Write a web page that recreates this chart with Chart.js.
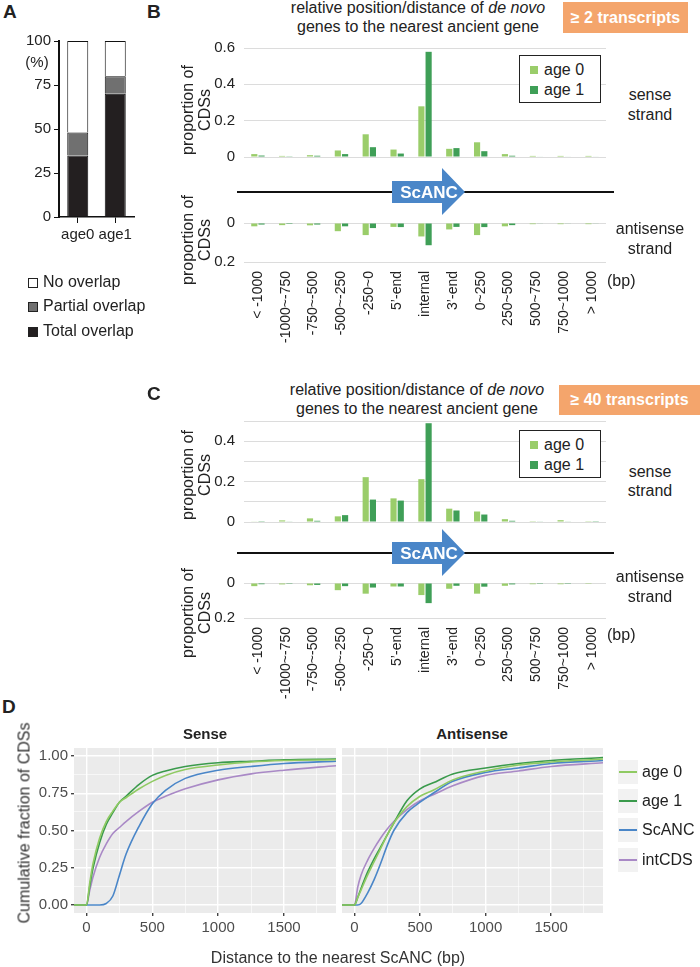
<!DOCTYPE html>
<html>
<head>
<meta charset="utf-8">
<script src="https://cdn.jsdelivr.net/npm/chart.js@4.4.0/dist/chart.umd.min.js"></script>
<style>
body { margin: 0; background: #fff; font-family: "Liberation Sans", Arial, sans-serif; color: #222; }
#fig { position: relative; width: 700px; height: 967px; overflow: hidden; }
.box { position: absolute; }
.t { position: absolute; white-space: nowrap; line-height: 1; transform: translate(-50%, -50%); }
.l { position: absolute; white-space: nowrap; line-height: 1; transform: translateY(-50%); }
.rot { position: absolute; white-space: nowrap; line-height: 17px; text-align: center; transform: translate(-50%, -50%) rotate(-90deg); font-size: 16px; }
.letter { position: absolute; font-weight: bold; font-size: 19px; line-height: 1; }
.tag { position: absolute; background: #f4a56c; color: #fff; font-weight: bold; font-size: 16px; display: flex; align-items: center; justify-content: center; }
.lgd { position: absolute; border: 1px solid #222; background: #fff; font-size: 16px; }
.sq { position: absolute; width: 8px; height: 8px; }
</style>
</head>
<body>
<div id="fig">

<!-- panel A -->
<div class="letter" style="left:3px;top:2px">A</div>
<div class="box" style="left:0;top:25px;width:146px;height:225px"><canvas id="chartA"></canvas></div>
<div class="t" style="left:37px;top:61px;font-size:15px">(%)</div>
<div class="sq" style="left:28px;top:278px;border:1px solid #222;background:#fff"></div>
<div class="l" style="left:43px;top:282px;font-size:16px">No overlap</div>
<div class="sq" style="left:28px;top:302px;border:1px solid #222;background:#707070"></div>
<div class="l" style="left:43px;top:306px;font-size:16px">Partial overlap</div>
<div class="sq" style="left:28px;top:327px;border:1px solid #222;background:#231f20"></div>
<div class="l" style="left:43px;top:331px;font-size:16px">Total overlap</div>

<!-- panel B -->
<div class="letter" style="left:147px;top:2px">B</div>
<div class="t" style="left:418px;top:8px;font-size:16px">relative position/distance of <i>de novo</i></div>
<div class="t" style="left:418px;top:27px;font-size:16px">genes to the nearest ancient gene</div>
<div class="tag" style="left:563px;top:2px;width:125px;height:31px">≥ 2 transcripts</div>
<div class="box" style="left:170px;top:30px;width:450px;height:145px"><canvas id="chartB1"></canvas></div>
<div class="box" style="left:170px;top:205px;width:450px;height:155px"><canvas id="chartB2"></canvas></div>
<div class="lgd" style="left:519px;top:55px;width:80px;height:46px">
  <div class="sq" style="left:10px;top:10px;background:#9acd6a"></div>
  <div class="l" style="left:24px;top:14px">age 0</div>
  <div class="sq" style="left:10px;top:30px;background:#3f9f57"></div>
  <div class="l" style="left:24px;top:34px">age 1</div>
</div>
<div class="rot" style="left:196px;top:110px">proportion of<br>CDSs</div>
<div class="rot" style="left:196px;top:240px">proportion of<br>CDSs</div>
<div class="t" style="left:650px;top:95px;font-size:16px">sense</div>
<div class="t" style="left:650px;top:115px;font-size:16px">strand</div>
<div class="t" style="left:650px;top:229px;font-size:16px">antisense</div>
<div class="t" style="left:650px;top:249px;font-size:16px">strand</div>
<div class="l" style="left:607px;top:281px;font-size:16px">(bp)</div>
<svg class="box" style="left:0;top:0" width="700" height="240">
  <line x1="237" y1="192" x2="614" y2="192" stroke="#111" stroke-width="2"/>
  <polygon points="392,181 442,181 442,168 465,192 442,215 442,203 392,203" fill="#4a86c8"/>
  <text x="429" y="198" text-anchor="middle" fill="#fff" font-weight="bold" font-size="17" font-family="Liberation Sans, Arial, sans-serif">ScANC</text>
</svg>

<!-- panel C -->
<div class="letter" style="left:147px;top:384px">C</div>
<div class="t" style="left:417px;top:390px;font-size:16px">relative position/distance of <i>de novo</i></div>
<div class="t" style="left:417px;top:409px;font-size:16px">genes to the nearest ancient gene</div>
<div class="tag" style="left:559px;top:385px;width:141px;height:30px">≥ 40 transcripts</div>
<div class="box" style="left:170px;top:400px;width:450px;height:140px"><canvas id="chartC1"></canvas></div>
<div class="box" style="left:170px;top:565px;width:450px;height:150px"><canvas id="chartC2"></canvas></div>
<div class="lgd" style="left:519px;top:430px;width:80px;height:46px">
  <div class="sq" style="left:10px;top:10px;background:#9acd6a"></div>
  <div class="l" style="left:24px;top:14px">age 0</div>
  <div class="sq" style="left:10px;top:30px;background:#3f9f57"></div>
  <div class="l" style="left:24px;top:34px">age 1</div>
</div>
<div class="rot" style="left:196px;top:475px">proportion of<br>CDSs</div>
<div class="rot" style="left:196px;top:613px">proportion of<br>CDSs</div>
<div class="t" style="left:650px;top:472px;font-size:16px">sense</div>
<div class="t" style="left:650px;top:491px;font-size:16px">strand</div>
<div class="t" style="left:650px;top:577px;font-size:16px">antisense</div>
<div class="t" style="left:650px;top:597px;font-size:16px">strand</div>
<div class="l" style="left:607px;top:635px;font-size:16px">(bp)</div>
<svg class="box" style="left:0;top:361px" width="700" height="240">
  <line x1="237" y1="192" x2="614" y2="192" stroke="#111" stroke-width="2"/>
  <polygon points="392,181 442,181 442,168 465,192 442,215 442,203 392,203" fill="#4a86c8"/>
  <text x="429" y="198" text-anchor="middle" fill="#fff" font-weight="bold" font-size="17" font-family="Liberation Sans, Arial, sans-serif">ScANC</text>
</svg>

<!-- panel D -->
<div class="letter" style="left:2px;top:697px">D</div>
<div class="t" style="left:205px;top:733px;font-size:15px;font-weight:bold">Sense</div>
<div class="t" style="left:472px;top:733px;font-size:15px;font-weight:bold">Antisense</div>
<div class="box" style="left:0;top:725px;width:340px;height:220px"><canvas id="chartD1"></canvas></div>
<div class="box" style="left:340px;top:725px;width:270px;height:220px"><canvas id="chartD2"></canvas></div>
<div class="rot" style="left:24px;top:823px;color:#333">Cumulative fraction of CDSs</div>
<div class="t" style="left:338px;top:958px;font-size:16px;color:#333">Distance to the nearest ScANC (bp)</div>
<div id="legD"></div>

</div>
<script>
// panel A: overlap (%)
const groups = ['age0', 'age1'];
const totalOverlap = [35, 70];
const partialOverlap = [13, 10];
const noOverlap = [52, 20];

// panels B, C: relative position categories
const posLabels = ['< -1000', '-1000~-750', '-750~-500', '-500~-250', '-250~0', '5’-end', 'internal',
                   '3’-end', '0~250', '250~500', '500~750', '750~1000', '> 1000'];

// >= 2 transcripts
const b2SenseAge0 = [0.016, 0.006, 0.010, 0.036, 0.125, 0.041, 0.279, 0.045, 0.081, 0.016, 0.006, 0.006, 0.006];
const b2SenseAge1 = [0.008, 0.004, 0.007, 0.016, 0.054, 0.019, 0.579, 0.049, 0.032, 0.007, 0.003, 0.003, 0.003];
const b2AntiAge0 = [0.017, 0.011, 0.012, 0.042, 0.062, 0.020, 0.069, 0.033, 0.062, 0.017, 0.006, 0.006, 0.006];
const b2AntiAge1 = [0.008, 0.005, 0.008, 0.017, 0.026, 0.021, 0.114, 0.020, 0.021, 0.011, 0.003, 0.003, 0.003];

// >= 40 transcripts
const c40SenseAge0 = [0.003, 0.008, 0.018, 0.028, 0.222, 0.117, 0.212, 0.066, 0.052, 0.014, 0.004, 0.009, 0.001];
const c40SenseAge1 = [0.001, 0.003, 0.006, 0.034, 0.111, 0.106, 0.489, 0.057, 0.037, 0.006, 0.003, 0.003, 0.001];
const c40AntiAge0 = [0.018, 0.008, 0.013, 0.041, 0.061, 0.020, 0.069, 0.033, 0.061, 0.016, 0.007, 0.007, 0.005];
const c40AntiAge1 = [0.007, 0.005, 0.011, 0.018, 0.026, 0.020, 0.115, 0.016, 0.021, 0.008, 0.005, 0.005, 0.003];

// panel D: cumulative fraction vs distance (bp)
const dist = [-95, 0, 25, 50, 100, 150, 200, 250, 300, 400, 500, 600, 750, 1000, 1250, 1500, 1895];
const senseAge0 = [0, 0, 0.15, 0.28, 0.45, 0.56, 0.63, 0.69, 0.72, 0.78, 0.83, 0.87, 0.91, 0.94, 0.96, 0.97, 0.975];
const senseAge1 = [0, 0, 0.13, 0.25, 0.42, 0.54, 0.62, 0.69, 0.73, 0.81, 0.87, 0.90, 0.93, 0.955, 0.965, 0.975, 0.98];
const senseScANC = [0, 0, 0, 0, 0, 0.01, 0.06, 0.20, 0.34, 0.53, 0.68, 0.77, 0.85, 0.905, 0.93, 0.95, 0.965];
const senseIntCDS = [0, 0, 0.10, 0.19, 0.32, 0.41, 0.48, 0.52, 0.56, 0.63, 0.69, 0.73, 0.78, 0.84, 0.88, 0.905, 0.935];
const antiAge0 = [0, 0, 0.05, 0.10, 0.20, 0.29, 0.38, 0.47, 0.55, 0.66, 0.73, 0.77, 0.84, 0.90, 0.94, 0.96, 0.98];
const antiAge1 = [0, 0, 0.05, 0.11, 0.22, 0.31, 0.39, 0.47, 0.55, 0.70, 0.78, 0.82, 0.88, 0.92, 0.95, 0.97, 0.99];
const antiScANC = [0, 0, 0, 0.01, 0.08, 0.17, 0.28, 0.40, 0.50, 0.62, 0.69, 0.75, 0.83, 0.89, 0.92, 0.95, 0.97];
const antiIntCDS = [0, 0, 0.12, 0.20, 0.30, 0.38, 0.45, 0.51, 0.56, 0.64, 0.70, 0.74, 0.80, 0.87, 0.90, 0.93, 0.955];
const distTicks = [0, 250, 500, 750, 1000, 1250, 1500, 1750];

const seriesNames = ['age 0', 'age 1', 'ScANC', 'intCDS'];
const seriesColors = ['#8fca62', '#3a9a4c', '#4a86c8', '#a989c6'];

Chart.defaults.font.family = '"Liberation Sans", Arial, sans-serif';
Chart.defaults.color = '#222';

const GREEN0 = '#9acd6a', GREEN1 = '#3f9f57';

// panel A
new Chart(document.getElementById('chartA'), {
  type: 'bar',
  data: {
    labels: groups,
    datasets: [
      { label: 'Total overlap', data: totalOverlap, backgroundColor: '#231f20' },
      { label: 'Partial overlap', data: partialOverlap, backgroundColor: '#707070' },
      { label: 'No overlap', data: noOverlap, backgroundColor: '#fff' }
    ].map(d => Object.assign(d, { borderColor: '#111', borderWidth: 1, categoryPercentage: 1, barPercentage: 0.56 }))
  },
  options: {
    responsive: true, maintainAspectRatio: false, animation: false,
    layout: { padding: { top: 16, right: 12, left: 0, bottom: 0 } },
    plugins: { legend: { display: false }, tooltip: { enabled: false } },
    scales: {
      x: { stacked: true,
           grid: { drawOnChartArea: false, offset: false, tickLength: 6, color: '#111' },
           border: { color: '#111', width: 1.5 },
           ticks: { font: { size: 15 }, padding: 3, autoSkip: false, minRotation: 0, maxRotation: 0 },
           afterFit: s => { s.height = 33; } },
      y: { stacked: true, min: 0, max: 100,
           grid: { drawOnChartArea: false, tickLength: 5, color: '#111' },
           border: { color: '#111', width: 2 },
           ticks: { stepSize: 25, font: { size: 15 }, padding: 3 },
           afterFit: s => { s.width = 59; } }
    }
  }
});

// panels B and C
function barChart(id, d0, d1, o) {
  return new Chart(document.getElementById(id), {
    type: 'bar',
    data: {
      labels: posLabels,
      datasets: [
        { label: 'age 0', data: d0, backgroundColor: GREEN0, categoryPercentage: 0.52, barPercentage: 0.85 },
        { label: 'age 1', data: d1, backgroundColor: GREEN1, categoryPercentage: 0.52, barPercentage: 0.85 }
      ]
    },
    options: {
      responsive: true, maintainAspectRatio: false, animation: false,
      layout: { padding: { top: o.top, bottom: o.xh ? 0 : o.bottom, right: 14, left: 0 } },
      plugins: { legend: { display: false }, tooltip: { enabled: false } },
      scales: {
        x: { display: !!o.xh,
             grid: { display: false, drawTicks: false }, border: { display: false },
             ticks: { minRotation: 90, maxRotation: 90, autoSkip: false, padding: 9, font: { size: 14 } },
             afterFit: s => { if (o.xh) s.height = o.xh; } },
        y: { min: 0, max: o.max, reverse: !!o.reverse,
             border: { display: false },
             grid: { color: '#dcdcdc', drawTicks: false },
             ticks: { stepSize: 0.1, padding: 9, font: { size: 15 },
                      callback: v => { const k = Math.round(v * 10); return k % 2 ? '' : (k === 0 ? '0' : (k / 10).toFixed(1)); } },
             afterFit: s => { s.width = 74; } }
      }
    }
  });
}

barChart('chartB1', b2SenseAge0, b2SenseAge1, { max: 0.6, top: 13, bottom: 8 });
barChart('chartB2', b2AntiAge0, b2AntiAge1, { max: 0.2, reverse: true, top: 12, xh: 98 });
barChart('chartC1', c40SenseAge0, c40SenseAge1, { max: 0.5, top: 21, bottom: 10 });
barChart('chartC2', c40AntiAge0, c40AntiAge1, { max: 0.2, reverse: true, top: 13, xh: 97 });

// panel D
const panelBg = {
  id: 'panelBg',
  beforeDraw(chart) {
    const { ctx, chartArea: a } = chart;
    ctx.save();
    ctx.fillStyle = '#ebebeb';
    ctx.fillRect(a.left, a.top, a.width, a.height);
    ctx.restore();
  }
};

const isMajorX = c => c.tick && c.tick.value % 500 === 0;
const isMajorY = c => c.tick && Math.round(c.tick.value * 8) % 2 === 0;

function cdfChart(id, curves, showY, pad) {
  return new Chart(document.getElementById(id), {
    type: 'line',
    data: {
      datasets: curves.map((c, i) => ({
        label: seriesNames[i],
        data: dist.map((x, j) => ({ x: x, y: c[j] })),
        borderColor: seriesColors[i], borderWidth: 1.6, pointRadius: 0,
        cubicInterpolationMode: 'monotone', fill: false
      }))
    },
    plugins: [panelBg],
    options: {
      responsive: true, maintainAspectRatio: false, animation: false,
      layout: { padding: pad },
      plugins: { legend: { display: false }, tooltip: { enabled: false } },
      scales: {
        x: { type: 'linear', min: -95, max: 1895,
             border: { display: false },
             grid: { color: '#fff', lineWidth: c => (isMajorX(c) ? 1.4 : 0.6),
                     tickLength: 3, tickColor: c => (isMajorX(c) ? '#444' : 'rgba(0,0,0,0)') },
             ticks: { autoSkip: false, padding: 3, font: { size: 15 }, color: '#4d4d4d',
                      minRotation: 0, maxRotation: 0,
                      callback: v => (v % 500 === 0 ? String(v) : '') },
             afterBuildTicks: s => { s.ticks = distTicks.map(v => ({ value: v })); },
             afterFit: s => { s.height = 32; } },
        y: { min: -0.054, max: 1.054,
             border: { display: false },
             grid: { color: '#fff', lineWidth: c => (isMajorY(c) ? 1.4 : 0.6),
                     drawTicks: showY, tickLength: 3,
                     tickColor: c => (isMajorY(c) ? '#444' : 'rgba(0,0,0,0)') },
             ticks: { display: showY, stepSize: 0.125, includeBounds: false, autoSkip: false, padding: 3, font: { size: 15 }, color: '#4d4d4d',
                      callback: v => (Math.round(v * 8) % 2 === 0 ? v.toFixed(2) : '') },
             afterFit: s => { s.width = showY ? 74 : 0; } }
      }
    }
  });
}

cdfChart('chartD1', [senseAge0, senseAge1, senseScANC, senseIntCDS], true, { top: 23, right: 4, left: 0, bottom: 0 });
cdfChart('chartD2', [antiAge0, antiAge1, antiScANC, antiIntCDS], false, { top: 23, right: 7, left: 2, bottom: 0 });

// legend for panel D
const legD = document.getElementById('legD');
const legY = [772, 801, 830, 860];
seriesNames.forEach((n, i) => {
  legD.insertAdjacentHTML('beforeend',
    '<div class="box" style="left:618px;top:' + (legY[i] - 12) + 'px;width:20px;height:24px;background:#f2f2f2">' +
    '<div class="box" style="left:1px;top:11px;width:18px;height:2px;background:' + seriesColors[i] + '"></div></div>' +
    '<div class="l" style="left:642px;top:' + legY[i] + 'px;font-size:16px;color:#222">' + n + '</div>');
});
</script>
</body>
</html>
